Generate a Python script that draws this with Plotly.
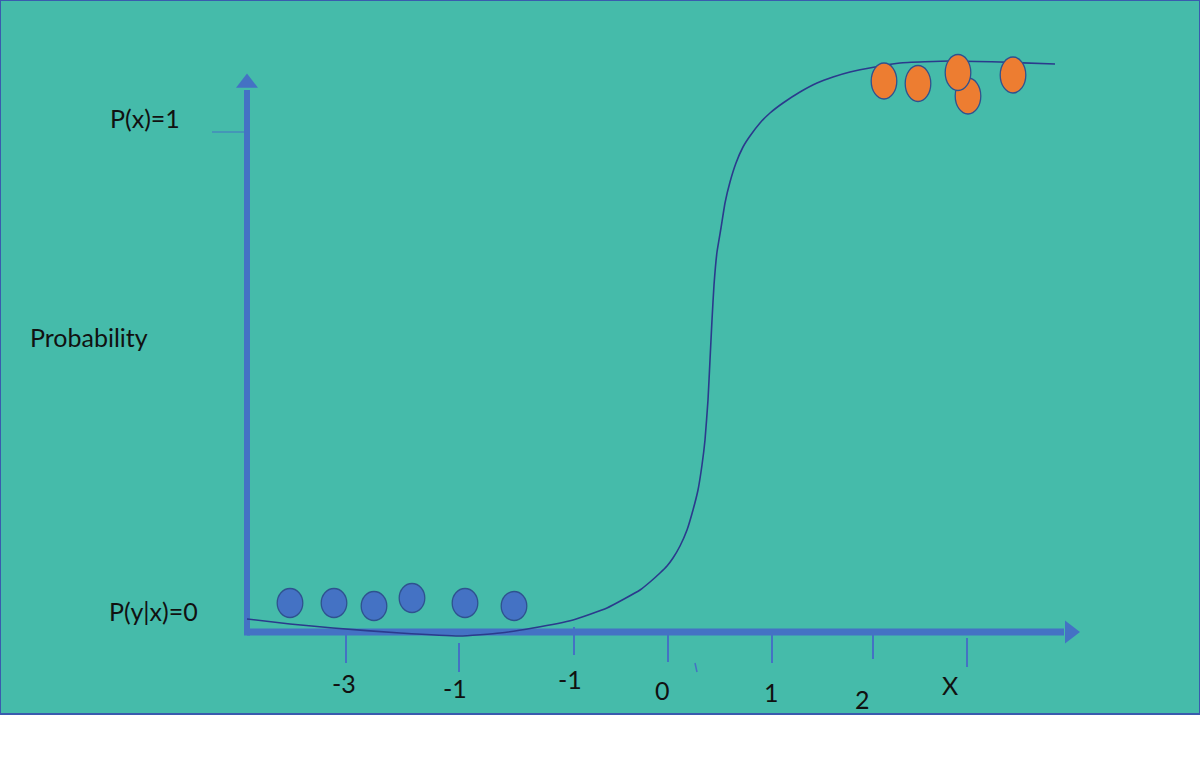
import plotly.graph_objects as go

# ---- data (x in chart units, y in probability units) ----
curve_x = [-4.20, -3.77, -3.34, -2.67, -2.07, -1.67, -1.34, -0.94, -0.60, -0.27, -0.17, -0.07, 0.00,
           0.06, 0.13, 0.20, 0.26, 0.31, 0.35, 0.38, 0.41, 0.43, 0.45, 0.47, 0.50, 0.54, 0.58,
           0.63, 0.69, 0.76, 0.83, 0.93, 1.03, 1.16, 1.33, 1.50, 1.66, 1.83, 2.08, 2.33, 2.83,
           3.33, 3.88]
curve_y = [0.026, 0.016, 0.008, -0.002, -0.008, -0.002, 0.008, 0.024, 0.048, 0.084, 0.100, 0.118, 0.132,
           0.148, 0.172, 0.204, 0.244, 0.284, 0.334, 0.384, 0.464, 0.544, 0.624, 0.694, 0.760, 0.808, 0.858,
           0.900, 0.938, 0.970, 0.992, 1.018, 1.038, 1.058, 1.080, 1.098, 1.110, 1.120, 1.130, 1.138, 1.142,
           1.140, 1.136]

class0_x = [-3.77, -3.33, -2.93, -2.55, -2.02, -1.53]
class0_y = [0.058, 0.058, 0.052, 0.068, 0.058, 0.052]

class1_x = [2.17, 2.51, 3.01, 2.91, 3.46]
class1_y = [1.102, 1.097, 1.072, 1.119, 1.114]

tick_labels = ["-3", "-1", "-1", "0", "1", "2", "X"]
tick_x = [-3.21, -2.08, -0.93, 0.01, 1.05, 2.06, 3.00]
tick_top = [-0.006, -0.022, 0.010, -0.006, -0.006, -0.006, -0.012]
tick_bottom = [-0.062, -0.080, -0.046, -0.060, -0.062, -0.054, -0.070]
label_x = [-3.23, -2.12, -0.97, -0.05, 1.04, 1.95, 2.83]
label_y = [-0.102, -0.112, -0.094, -0.116, -0.120, -0.134, -0.106]

stray_mark_x = [0.28, 0.30]
stray_mark_y = [-0.062, -0.080]

y_labels = ["P(x)=1", "Probability", "P(y|x)=0"]
y_label_x = [-5.22, -5.78, -5.14]
y_label_y = [1.028, 0.590, 0.042]

axis_origin = (-4.20, 0.0)
x_axis_end = 4.11
y_axis_end = 1.114
one_tick_x = [-4.55, -4.22]

# ---- styles ----
AX_BLUE = "#4472C4"
CURVE = "#2B3A8C"
OUTLINE = "#2F528F"
BG = "#45BBAA"
FONT = "Lato, 'Open Sans', sans-serif"

fig = go.Figure()

# background panel
fig.add_shape(type="rect", xref="paper", yref="paper", x0=0, x1=1, y0=64 / 778, y1=1,
              fillcolor=BG, line=dict(color="#3A5BAE", width=2), layer="below")

# axes shafts
fig.add_trace(go.Scatter(x=[axis_origin[0], x_axis_end - 0.14], y=[0, 0], mode="lines",
                         line=dict(color=AX_BLUE, width=7), hoverinfo="skip"))
fig.add_trace(go.Scatter(x=[axis_origin[0], axis_origin[0]], y=[-0.007, y_axis_end - 0.03], mode="lines",
                         line=dict(color=AX_BLUE, width=6), hoverinfo="skip"))
# arrow heads
fig.add_trace(go.Scatter(x=[x_axis_end - 0.08], y=[0], mode="markers",
                         marker=dict(symbol="triangle-right", size=20, color=AX_BLUE, line=dict(width=0)),
                         hoverinfo="skip"))
fig.add_trace(go.Scatter(x=[axis_origin[0]], y=[y_axis_end - 0.016], mode="markers",
                         marker=dict(symbol="triangle-up", size=19, color=AX_BLUE, line=dict(width=0)),
                         hoverinfo="skip"))

# tick marks
for tx, t0, t1 in zip(tick_x, tick_top, tick_bottom):
    fig.add_trace(go.Scatter(x=[tx, tx], y=[t0, t1], mode="lines",
                             line=dict(color=AX_BLUE, width=2), hoverinfo="skip"))
fig.add_trace(go.Scatter(x=stray_mark_x, y=stray_mark_y, mode="lines",
                         line=dict(color=AX_BLUE, width=1.5), hoverinfo="skip"))
fig.add_trace(go.Scatter(x=one_tick_x, y=[1.0, 1.0], mode="lines",
                         line=dict(color=AX_BLUE, width=1.2), hoverinfo="skip"))

# sigmoid curve
fig.add_trace(go.Scatter(x=curve_x, y=curve_y, mode="lines",
                         line=dict(color=CURVE, width=1.6, shape="spline", smoothing=0.4),
                         hoverinfo="skip"))

# data points as ellipses
def add_ellipses(xs, ys, rx, ry, color):
    for cx, cy in zip(xs, ys):
        fig.add_shape(type="circle", xref="x", yref="y",
                      x0=cx - rx, x1=cx + rx, y0=cy - ry, y1=cy + ry,
                      fillcolor=color, line=dict(color=OUTLINE, width=1.3), layer="above")

add_ellipses(class0_x, class0_y, 0.128, 0.029, "#4472C4")
add_ellipses(class1_x, class1_y, 0.128, 0.036, "#ED7D31")

# tick labels
for lab, lx, ly in zip(tick_labels, label_x, label_y):
    fig.add_annotation(x=lx, y=ly, text=lab, showarrow=False,
                       font=dict(family=FONT, size=25, color="#111111"))
for lab, lx, ly in zip(y_labels, y_label_x, y_label_y):
    fig.add_annotation(x=lx, y=ly, text=lab, showarrow=False,
                       font=dict(family=FONT, size=25, color="#111111"))

fig.update_layout(
    width=1200, height=778,
    margin=dict(l=0, r=0, t=0, b=0),
    paper_bgcolor="white", plot_bgcolor="rgba(0,0,0,0)",
    showlegend=False,
    xaxis=dict(range=[-6.67, 5.33], visible=False, fixedrange=True),
    yaxis=dict(range=[-0.292, 1.264], visible=False, fixedrange=True),
)

fig.write_html("out.html", config={"displayModeBar": False},
               post_script="document.body.style.margin='0px';")
